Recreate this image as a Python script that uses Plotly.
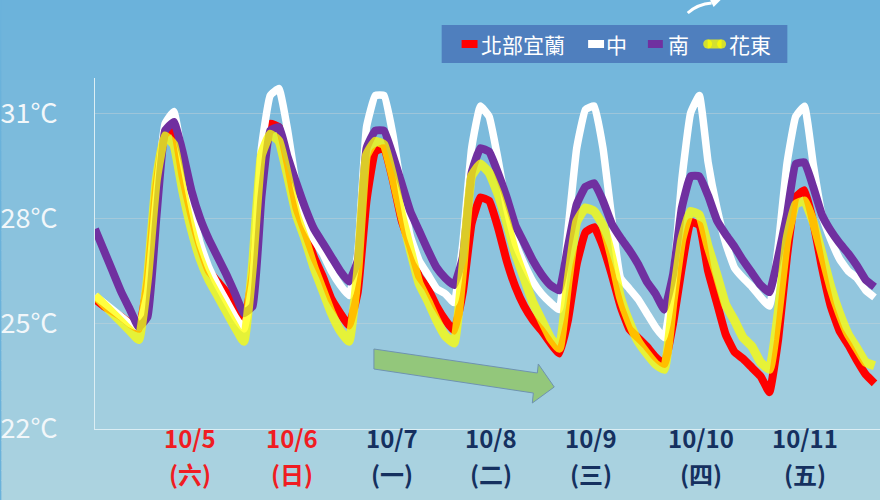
import plotly.graph_objects as go

# ---------------- data ----------------
# hours since 10/4 19:00, 2-hourly samples
hours = list(range(0, 180, 2))

north = [  # 北部宜蘭
    25.7, 25.5, 25.35, 25.2, 25.0, 24.85, 26.2, 28.9, 30.4, 30.55, 29.2, 28.1,
    27.2, 26.5, 26.2, 25.9, 25.45, 25.05, 26.4, 29.2, 30.7, 30.6, 29.55, 28.3,
    27.6, 26.9, 26.35, 25.7, 25.3, 24.95, 25.9, 28.5, 29.9, 30.0, 29.1, 27.95,
    27.2, 26.35, 26.0, 25.5, 25.1, 24.8, 25.9, 27.85, 28.6, 28.5, 27.75, 26.8,
    26.05, 25.5, 25.1, 24.8, 24.45, 24.15, 25.1, 26.7, 27.6, 27.75, 27.2, 26.4,
    25.5, 24.85, 24.6, 24.35, 24.05, 23.85, 25.0, 26.6, 27.9, 27.8, 26.5, 25.6,
    24.7, 24.2, 24.0, 23.75, 23.5, 23.05, 24.55, 26.9, 28.6, 28.8, 27.9, 26.6,
    25.5, 24.8, 24.4, 23.95, 23.55, 23.3,
]
central = [  # 中
    25.8, 25.6, 25.4, 25.2, 25.0, 24.9, 25.9, 28.6, 30.7, 31.05, 29.7, 28.4,
    27.3, 26.6, 26.1, 25.65, 25.2, 24.85, 26.2, 30.0, 31.5, 31.7, 30.5, 28.9,
    27.9, 27.4, 27.0, 26.5, 26.1, 25.8, 27.0, 30.6, 31.5, 31.5, 30.4, 28.8,
    27.5, 26.8, 26.4, 26.0, 25.85, 25.6, 27.3, 30.0, 31.2, 30.9, 29.7, 28.3,
    27.3, 26.7, 26.2, 25.85, 25.6, 25.4, 27.65, 30.0, 31.1, 31.2, 30.0, 28.0,
    26.3, 26.0, 25.7, 25.3, 24.9, 24.6, 26.2, 29.1, 31.0, 31.5, 29.6, 28.3,
    27.3, 26.6, 26.3, 26.05, 25.75, 25.5, 27.2, 29.55, 30.9, 31.2, 29.55, 28.1,
    27.4, 26.85, 26.5, 26.3, 25.95, 25.75,
]
south = [  # 南
    27.7, 27.1, 26.5, 25.9, 25.4, 24.9, 25.2, 28.0, 30.5, 30.75, 29.9, 28.8,
    28.0, 27.4, 26.9, 26.4, 25.85, 25.3, 25.5, 28.6, 30.5, 30.6, 29.75, 29.0,
    28.3, 27.7, 27.3, 26.9, 26.5, 26.2, 26.8, 30.0, 30.5, 30.5, 29.8, 29.0,
    28.2, 27.65, 27.1, 26.6, 26.3, 26.1, 26.9, 29.3, 30.0, 29.9, 29.3, 28.6,
    27.8, 27.3, 26.8, 26.4, 26.1, 25.95, 27.2, 28.4, 28.9, 29.0, 28.5, 27.85,
    27.45, 27.1, 26.7, 26.2, 25.85, 25.4, 26.4, 28.3, 29.2, 29.2, 28.65, 27.95,
    27.55, 27.2, 26.8, 26.45, 26.1, 25.9, 26.9, 28.1, 29.55, 29.6, 28.9, 28.1,
    27.65, 27.3, 27.0, 26.65, 26.25, 26.05,
]
east = [  # 花東
    25.8, 25.55, 25.3, 25.05, 24.8, 24.55, 26.3, 29.1, 30.35, 30.1, 28.8, 27.7,
    26.85, 26.25, 25.8, 25.35, 24.9, 24.5, 26.7, 29.8, 30.4, 30.2, 29.2, 28.1,
    27.4, 26.6, 25.95, 25.3, 24.8, 24.5, 26.5, 29.8, 30.2, 30.1, 29.2, 28.1,
    27.1, 26.15, 25.65, 25.1, 24.65, 24.45, 26.6, 29.2, 29.55, 29.3, 28.7, 27.9,
    27.0, 26.3, 25.6, 25.1, 24.6, 24.3, 26.2, 27.9, 28.3, 28.2, 27.8, 26.9,
    25.75, 25.05, 24.5, 24.15, 23.85, 23.7, 25.65, 27.4, 28.2, 28.1, 27.2, 26.4,
    25.55, 25.1, 24.6, 24.35, 23.9, 23.7, 25.3, 27.4, 28.4, 28.5, 27.9, 27.0,
    26.05, 25.3, 24.7, 24.3, 23.9, 23.8,
]

series_names = ["北部宜蘭", "中", "南", "花東"]

date_labels = ["10/5", "10/6", "10/7", "10/8", "10/9", "10/10", "10/11"]
weekday_labels = ["(六)", "(日)", "(一)", "(二)", "(三)", "(四)", "(五)"]
label_hours = [21.8, 45.0, 67.8, 90.5, 113.3, 138.3, 162.2]
holiday = [True, True, False, False, False, False, False]

y_ticks = [22, 25, 28, 31]
y_ticktext = ["22°C", "25°C", "28°C", "31°C"]

# ---------------- styles ----------------
W, H = 880, 500
ML, MR, MT, MB = 92, 0, 78, 71
PW, PH = W - ML - MR, H - MT - MB

def px_x(x):
    return (x - ML) / PW

def px_y(y):
    return (H - MB - y) / PH

colors = {
    "北部宜蘭": "#ff0000",
    "中": "#ffffff",
    "南": "#7030a0",
    "花東": "rgba(255,255,0,0.75)",
}
widths = {"北部宜蘭": 8, "中": 7.5, "南": 8, "花東": 9}
values = {"北部宜蘭": north, "中": central, "南": south, "花東": east}

fig = go.Figure()
for name in ["北部宜蘭", "中", "南", "花東"]:
    fig.add_trace(go.Scatter(
        x=hours, y=values[name], mode="lines", name=name,
        line=dict(color=colors[name], width=widths[name], shape="spline", smoothing=0.35),
        hoverinfo="skip",
    ))

shapes = []
# vertical gradient background
top = (106, 178, 219)
bot = (174, 212, 224)
n = 50
for i in range(n):
    t = (i + 0.5) / n
    c = tuple(round(top[k] + (bot[k] - top[k]) * t) for k in range(3))
    y0 = H * i / n
    y1 = H * (i + 1) / n + 1
    shapes.append(dict(type="rect", xref="paper", yref="paper", layer="below",
                       x0=px_x(-2), x1=px_x(W + 2), y0=px_y(y1), y1=px_y(y0),
                       line=dict(width=0), fillcolor="rgb(%d,%d,%d)" % c))

# legend box
shapes.append(dict(type="rect", xref="paper", yref="paper",
                   x0=px_x(440), x1=px_x(787), y0=px_y(63), y1=px_y(25),
                   line=dict(width=0), fillcolor="#4f7fbe"))
legend_marks = [("北部宜蘭", 460, 476), ("中", 587, 603), ("南", 647, 662)]
for name, a, b in legend_marks:
    shapes.append(dict(type="rect", xref="paper", yref="paper",
                       x0=px_x(a), x1=px_x(b), y0=px_y(48), y1=px_y(40),
                       line=dict(width=0), fillcolor=colors[name]))
# rounded yellow legend mark
shapes.append(dict(type="rect", xref="paper", yref="paper",
                   x0=px_x(707), x1=px_x(721), y0=px_y(48.5), y1=px_y(39.5),
                   line=dict(width=0), fillcolor=colors["花東"]))
for cx in (707, 721):
    shapes.append(dict(type="circle", xref="paper", yref="paper",
                       x0=px_x(cx - 4.5), x1=px_x(cx + 4.5), y0=px_y(48.5), y1=px_y(39.5),
                       line=dict(width=0), fillcolor=colors["花東"]))

# green arrow
arrow_pts = [(372, 349), (536, 373), (537, 364), (553, 387), (531, 403), (532, 393), (372, 369)]
path = "M " + " L ".join("%.5f,%.5f" % (px_x(x), px_y(y)) for x, y in arrow_pts) + " Z"
shapes.append(dict(type="path", xref="paper", yref="paper", path=path,
                   fillcolor="#93c77b", line=dict(color="#6f93b0", width=1)))

# small white curved arrow at top
p = "M %.5f,%.5f Q %.5f,%.5f %.5f,%.5f" % (px_x(687), px_y(13), px_x(697), px_y(4), px_x(711), px_y(3))
shapes.append(dict(type="path", xref="paper", yref="paper", path=p,
                   line=dict(color="white", width=3)))
head = [(709, -1), (721, -1), (713, 7)]
hp = "M " + " L ".join("%.5f,%.5f" % (px_x(x), px_y(y)) for x, y in head) + " Z"
shapes.append(dict(type="path", xref="paper", yref="paper", path=hp,
                   fillcolor="white", line=dict(width=0)))

annotations = []
legend_text = [("北部宜蘭", 477), ("中", 603), ("南", 665), ("花東", 726)]
for name, x in legend_text:
    annotations.append(dict(xref="paper", yref="paper", x=px_x(x), y=px_y(44),
                            xanchor="left", yanchor="middle", showarrow=False,
                            text=name, font=dict(size=21, color="white",
                                                 family="Noto Sans CJK TC")))

for d, wd, hx, hol in zip(date_labels, weekday_labels, label_hours, holiday):
    col = "#f01c22" if hol else "#15305f"
    annotations.append(dict(xref="x", yref="paper", x=hx, y=px_y(438),
                            xanchor="center", yanchor="middle", showarrow=False,
                            text="<b>%s</b>" % d,
                            font=dict(size=24, color=col, family="Noto Sans CJK TC")))
    annotations.append(dict(xref="x", yref="paper", x=hx, y=px_y(473),
                            xanchor="center", yanchor="middle", showarrow=False,
                            text="<b>%s</b>" % wd,
                            font=dict(size=24, color=col, family="Noto Sans CJK TC")))

fig.update_layout(
    width=W, height=H,
    margin=dict(l=ML, r=MR, t=MT, b=MB, pad=0),
    paper_bgcolor="rgb(106,178,219)",
    plot_bgcolor="rgba(0,0,0,0)",
    showlegend=False,
    font=dict(family="Noto Sans CJK TC"),
    shapes=shapes,
    annotations=annotations,
    xaxis=dict(range=[0, PW / 4.396], showgrid=False, zeroline=False,
               showline=True, linecolor="#dceef4", linewidth=1,
               showticklabels=False, ticks=""),
    yaxis=dict(range=[22, 32], tickvals=y_ticks, ticktext=y_ticktext,
               showgrid=True, gridcolor="rgba(200,210,215,0.45)", gridwidth=1,
               zeroline=False, showline=True, linecolor="#dceef4", linewidth=1,
               ticks="outside", ticklen=31, tickcolor="rgba(0,0,0,0)",
               tickfont=dict(size=27, color="#f2f7fa", family="Noto Sans CJK TC")),
)

fig.write_html("out.html")
